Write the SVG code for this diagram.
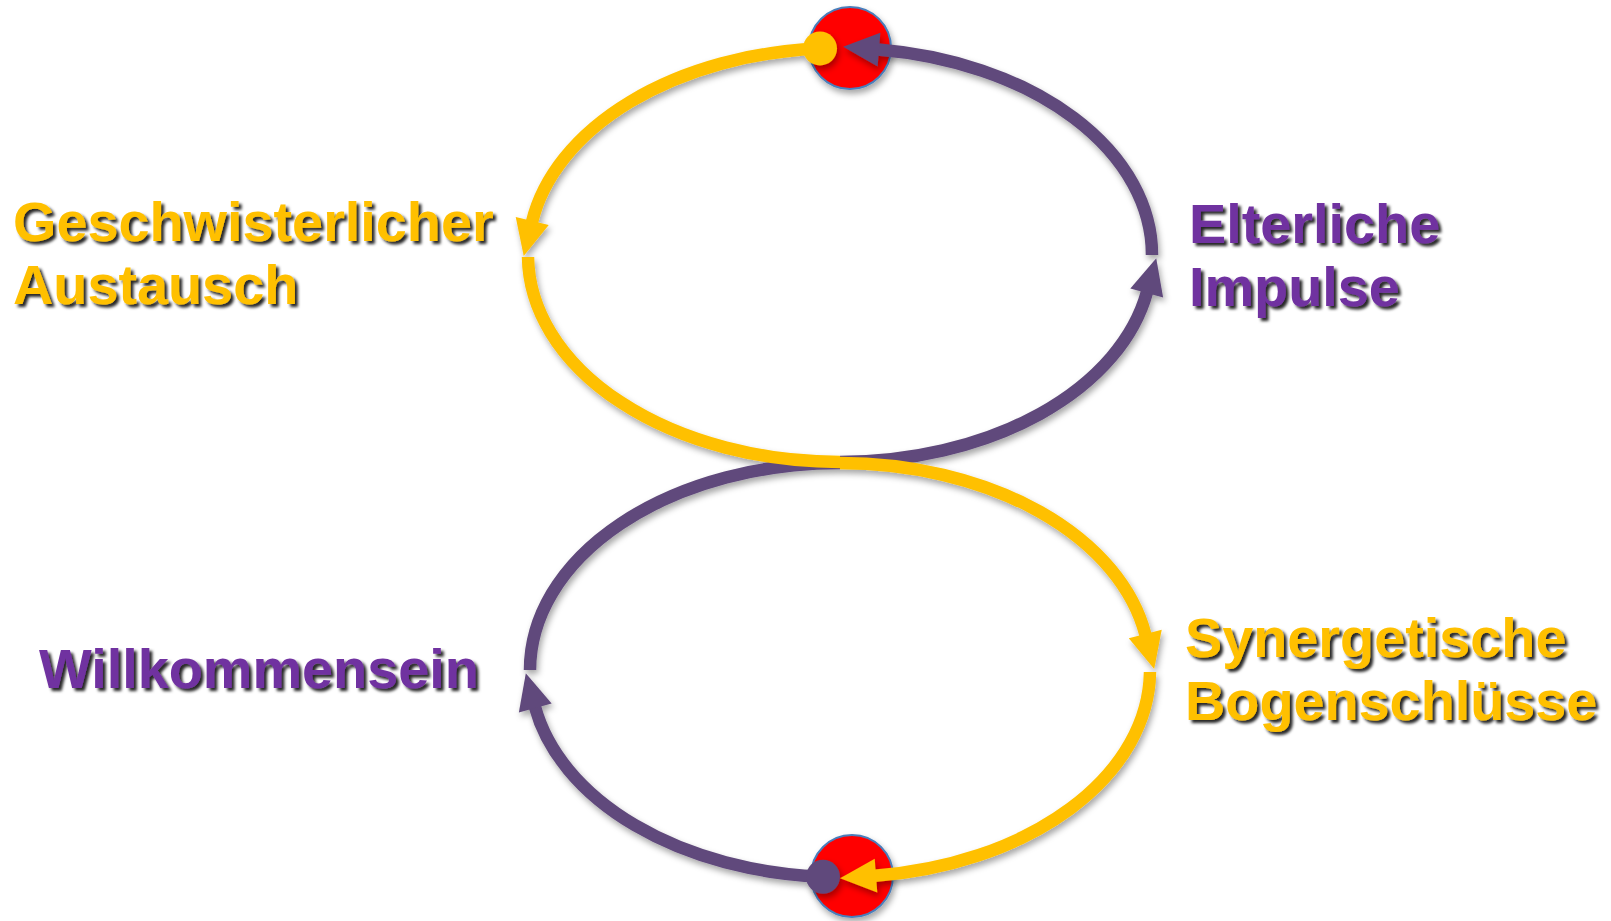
<svg xmlns="http://www.w3.org/2000/svg" width="1611" height="921" viewBox="0 0 1611 921">
  <defs>
    <style>
      .label { font-family: "Liberation Sans", Arial, sans-serif; font-weight: bold; font-size: 55.8px; filter: url(#textShadow); }
      .gold { fill: #FFC000; }
      .violet { fill: #7030A0; }
      .hub { fill: #FF0000; stroke: #4A7EBB; stroke-width: 2; filter: url(#softShadow); }
      .arc { fill: none; stroke-width: 12.5; stroke-linecap: butt; }
      .arc-gold { stroke: #FFC000; }
      .arc-violet { stroke: #604A7B; }
    </style>
    <filter id="textShadow" x="-5%" y="-20%" width="115%" height="150%">
      <feDropShadow dx="3" dy="3" stdDeviation="1.4" flood-color="#000" flood-opacity="0.85"/>
    </filter>
    <filter id="softShadow" x="-10%" y="-10%" width="125%" height="125%">
      <feDropShadow dx="2" dy="4" stdDeviation="3" flood-color="#000" flood-opacity="0.35"/>
    </filter>
    <marker id="arrowGold" markerUnits="userSpaceOnUse" viewBox="0 -20 40 40" markerWidth="40" markerHeight="40" refX="1" refY="0" orient="auto" overflow="visible">
      <path d="M0,-17 L36,0 L0,17 Z" fill="#FFC000"/>
    </marker>
    <marker id="arrowViolet" markerUnits="userSpaceOnUse" viewBox="0 -20 40 40" markerWidth="40" markerHeight="40" refX="1" refY="0" orient="auto" overflow="visible">
      <path d="M0,-17 L36,0 L0,17 Z" fill="#604A7B"/>
    </marker>
    <marker id="dotGold" markerUnits="userSpaceOnUse" viewBox="-20 -20 40 40" markerWidth="40" markerHeight="40" refX="0" refY="0" overflow="visible">
      <circle cx="0" cy="0" r="17" fill="#FFC000"/>
    </marker>
    <marker id="dotViolet" markerUnits="userSpaceOnUse" viewBox="-20 -20 40 40" markerWidth="40" markerHeight="40" refX="0" refY="0" overflow="visible">
      <circle cx="0" cy="0" r="17" fill="#604A7B"/>
    </marker>
  </defs>

  <rect width="1611" height="921" fill="#FFFFFF"/>

  <!-- turning points of the figure eight -->
  <g id="hub-top">
    <circle class="hub" cx="850" cy="48" r="41"/>
  </g>
  <g id="hub-bottom">
    <circle class="hub" cx="852" cy="876" r="41"/>
  </g>

  <!-- labels -->
  <g id="label-geschwister">
    <text class="label gold" x="13" y="241">Geschwisterlicher</text>
    <text class="label gold" x="13" y="304">Austausch</text>
  </g>
  <g id="label-elterlich">
    <text class="label violet" x="1189" y="243">Elterliche</text>
    <text class="label violet" x="1189" y="306">Impulse</text>
  </g>
  <g id="label-willkommen">
    <text class="label violet" x="39" y="688">Willkommensein</text>
  </g>
  <g id="label-synergie">
    <text class="label gold" x="1185" y="657">Synergetische</text>
    <text class="label gold" x="1185" y="720">Bogenschlüsse</text>
  </g>

  <!-- connectors: two stacked ellipses, each half its own arc -->
  <g id="connectors" filter="url(#softShadow)">
    <!-- violet flow: bottom hub, left of lower loop, crossing, right of upper loop, top hub -->
    <path class="arc arc-violet" d="M823,876.7 A310,207 0 0 1 535,707" marker-start="url(#dotViolet)" marker-end="url(#arrowViolet)"/>
    <path class="arc arc-violet" d="M530,670 A310,207 0 0 1 840,463"/>
    <path class="arc arc-violet" d="M840,462 A312,207 0 0 0 1147,292" marker-end="url(#arrowViolet)"/>
    <path class="arc arc-violet" d="M1152,255 A312,207 0 0 0 878,49.5" marker-end="url(#arrowViolet)"/>
    <!-- gold flow: top hub, left of upper loop, crossing, right of lower loop, bottom hub -->
    <path class="arc arc-gold" d="M820,48.4 A312,207 0 0 0 532,222" marker-start="url(#dotGold)" marker-end="url(#arrowGold)"/>
    <path class="arc arc-gold" d="M528,257 A312,207 0 0 0 840,462"/>
    <path class="arc arc-gold" d="M840,463 A310,207 0 0 1 1145.5,635" marker-end="url(#arrowGold)"/>
    <path class="arc arc-gold" d="M1150,672 A310,207 0 0 1 875,875.7" marker-end="url(#arrowGold)"/>
  </g>
</svg>
